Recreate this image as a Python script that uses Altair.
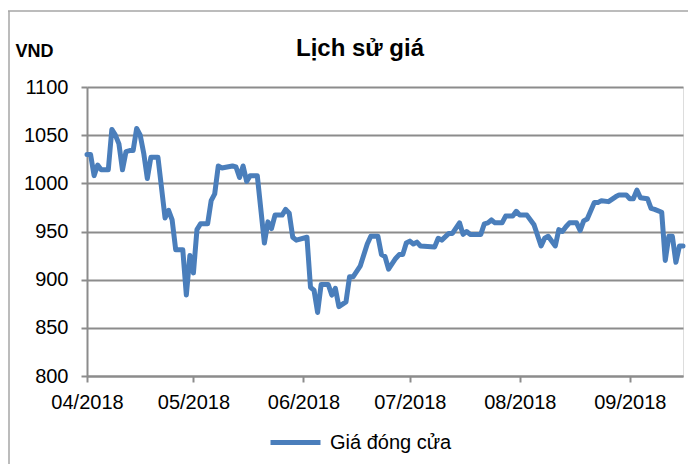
import altair as alt
import pandas as pd

dates = [
    "2018-04-01", "2018-04-02", "2018-04-03", "2018-04-04", "2018-04-05", "2018-04-07",
    "2018-04-08", "2018-04-09", "2018-04-10", "2018-04-11", "2018-04-12", "2018-04-13",
    "2018-04-14", "2018-04-15", "2018-04-16", "2018-04-17", "2018-04-18", "2018-04-19",
    "2018-04-21", "2018-04-23", "2018-04-24", "2018-04-25", "2018-04-26", "2018-04-28",
    "2018-04-29", "2018-04-30", "2018-05-01", "2018-05-02", "2018-05-03", "2018-05-05",
    "2018-05-06", "2018-05-07", "2018-05-08", "2018-05-09", "2018-05-12", "2018-05-13",
    "2018-05-14", "2018-05-15", "2018-05-16", "2018-05-17", "2018-05-19", "2018-05-21",
    "2018-05-22", "2018-05-23", "2018-05-24", "2018-05-26", "2018-05-27", "2018-05-28",
    "2018-05-29", "2018-05-30", "2018-06-02", "2018-06-03", "2018-06-04", "2018-06-05",
    "2018-06-06", "2018-06-08", "2018-06-09", "2018-06-10", "2018-06-11", "2018-06-13",
    "2018-06-14", "2018-06-15", "2018-06-17", "2018-06-19", "2018-06-20", "2018-06-22",
    "2018-06-23", "2018-06-24", "2018-06-25", "2018-06-27", "2018-06-28", "2018-06-29",
    "2018-06-30", "2018-07-01", "2018-07-02", "2018-07-03", "2018-07-04", "2018-07-08",
    "2018-07-09", "2018-07-10", "2018-07-12", "2018-07-13", "2018-07-15", "2018-07-16",
    "2018-07-17", "2018-07-18", "2018-07-21", "2018-07-22", "2018-07-23", "2018-07-24",
    "2018-07-25", "2018-07-27", "2018-07-28", "2018-07-30", "2018-07-31", "2018-08-01",
    "2018-08-03", "2018-08-05", "2018-08-07", "2018-08-08", "2018-08-09", "2018-08-11",
    "2018-08-12", "2018-08-13", "2018-08-14", "2018-08-15", "2018-08-17", "2018-08-18",
    "2018-08-19", "2018-08-20", "2018-08-22", "2018-08-23", "2018-08-24", "2018-08-26",
    "2018-08-28", "2018-08-29", "2018-08-31", "2018-09-01", "2018-09-02", "2018-09-03",
    "2018-09-04", "2018-09-06", "2018-09-07", "2018-09-08", "2018-09-10", "2018-09-11",
    "2018-09-12", "2018-09-13", "2018-09-14", "2018-09-15", "2018-09-16",
]

close_prices = [
    1030, 1030, 1008, 1019, 1014, 1014,
    1056, 1050, 1041, 1014, 1033, 1034,
    1034, 1057, 1050, 1031, 1005, 1027,
    1027, 964, 972, 962, 931, 931,
    884, 925, 907, 952, 958, 958,
    982, 989, 1018, 1016, 1018, 1017,
    1006, 1018, 1002, 1008, 1008, 938,
    960, 953, 967, 967, 973, 969,
    944, 941, 944, 892, 889, 866,
    895, 895, 884, 891, 872, 877,
    903, 903, 914, 937, 945, 945,
    926, 924, 911, 922, 926, 926,
    938, 940, 937, 939, 935, 934,
    943, 941, 948, 948, 959, 947,
    950, 947, 947, 958, 959, 962,
    959, 959, 966, 966, 971, 967,
    967, 957, 935, 943, 945, 935,
    952, 950, 955, 959, 959, 951,
    961, 963, 980, 980, 982, 981,
    986, 988, 988, 984, 984, 993,
    985, 984, 974, 973, 970, 920,
    945, 945, 918, 935, 935,
]

series_name = "Giá đóng cửa"
y_ticks = [800, 850, 900, 950, 1000, 1050, 1100]
month_ticks = [(2018, m) for m in range(4, 10)]

df = pd.DataFrame({"date": dates, "price": close_prices, "series": series_name})

GRID = "#8c8c8c"
FRAME = "#a6a6a6"
FONT = "Liberation Sans"

line = (
    alt.Chart(df)
    .mark_line(strokeWidth=5, strokeJoin="round", strokeCap="round")
    .encode(
        x=alt.X(
            "date:T",
            scale=alt.Scale(
                type="utc",
                domain=[
                    alt.DateTime(year=2018, month=4, date=1, utc=True),
                    alt.DateTime(year=2018, month=9, date=16, utc=True),
                ],
            ),
            axis=alt.Axis(
                title=None,
                values=[alt.DateTime(year=y, month=m, date=1, utc=True) for y, m in month_ticks],
                format="%m/%Y",
                grid=False,
                tickSize=6,
                labelPadding=10,
                labelFontSize=20,
                labelColor="#000000",
                labelFont=FONT,
                labelAlign="center",
                labelFlush=False,
                labelOverlap=False,
                domainColor=GRID,
                domainWidth=2,
                tickColor=GRID,
                tickWidth=2,
            ),
        ),
        y=alt.Y(
            "price:Q",
            scale=alt.Scale(domain=[800, 1100], nice=False, zero=False),
            axis=alt.Axis(
                title="VND",
                titleAngle=0,
                titleX=-72,
                titleY=-31,
                titleAlign="left",
                titleBaseline="alphabetic",
                titleFontSize=18,
                titleFontWeight="bold",
                titleFont=FONT,
                titleColor="#000000",
                values=y_ticks,
                format="d",
                tickSize=6,
                labelPadding=13,
                labelFontSize=20,
                labelColor="#000000",
                labelFont=FONT,
                labelFlush=False,
                domainColor=GRID,
                domainWidth=2,
                tickColor=GRID,
                tickWidth=2,
                gridColor=GRID,
                gridWidth=2,
            ),
        ),
        color=alt.Color(
            "series:N",
            scale=alt.Scale(range=["#4a7ebb"]),
            legend=alt.Legend(
                title=None,
                orient="none",
                legendX=181,
                legendY=328,
                symbolType="stroke",
                symbolStrokeWidth=5,
                symbolSize=2500,
                labelFontSize=20,
                labelFont=FONT,
                labelColor="#000000",
                labelOffset=7,
                padding=0,
            ),
        ),
    )
)

# decorative outer frame of the chart (top edge and left edge)
frame_df = pd.DataFrame({"k": [0]})
frame_top = alt.Chart(frame_df).mark_rule(color=FRAME, strokeWidth=1.5).encode(
    x=alt.value(-79), x2=alt.value(601), y=alt.value(-76)
)
frame_left = alt.Chart(frame_df).mark_rule(color=FRAME, strokeWidth=1.5).encode(
    x=alt.value(-78), y=alt.value(-76), y2=alt.value(385)
)

chart = (
    alt.layer(frame_top, frame_left, line)
    .properties(
        width=596,
        height=289,
        title=alt.TitleParams(
            "Lịch sử giá",
            fontSize=24,
            fontWeight="bold",
            font=FONT,
            color="#000000",
            anchor="middle",
            dx=-25,
            dy=55,
        ),
        autosize=alt.AutoSizeParams(type="none"),
        padding={"left": 79, "top": 79, "right": 5, "bottom": 88},
    )
    .configure_view(stroke=None)
    .configure(background="#ffffff")
)

chart.save("out.html", embed_options={"renderer": "svg", "actions": False})
